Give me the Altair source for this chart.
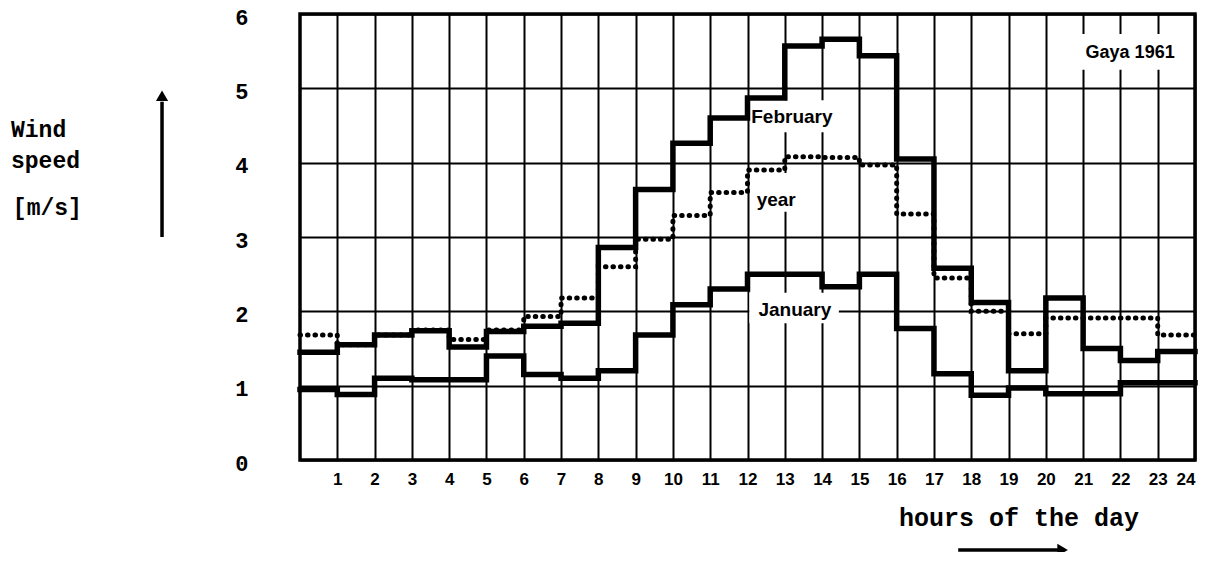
import altair as alt
import pandas as pd

# ---- data (one value per hour interval, 0-1 ... 23-24)
hour_starts = list(range(24))
february = [1.45, 1.55, 1.68, 1.74, 1.52, 1.73, 1.80, 1.84, 2.86, 3.64, 4.26, 4.60,
            4.87, 5.57, 5.66, 5.44, 4.05, 2.58, 2.12, 1.20, 2.18, 1.50, 1.34, 1.46]
january = [0.95, 0.88, 1.10, 1.08, 1.08, 1.40, 1.15, 1.10, 1.20, 1.68, 2.09, 2.30,
           2.50, 2.50, 2.33, 2.50, 1.77, 1.16, 0.87, 0.97, 0.89, 0.89, 1.04, 1.04]
year = [1.68, 1.55, 1.68, 1.75, 1.62, 1.75, 1.93, 2.18, 2.60, 2.97, 3.29, 3.60,
        3.90, 4.08, 4.07, 3.97, 3.31, 2.45, 2.00, 1.70, 1.91, 1.91, 1.91, 1.68]

x_tick_values = list(range(1, 25))
y_tick_values = list(range(0, 7))

# in-plot labels (data units)
label_text = ["February", "year", "January"]
label_x = [13.19, 12.77, 13.27]
label_y = [4.62, 3.50, 2.02]
label_box_x = [12.2, 12.15, 12.05]
label_box_x2 = [14.6, 13.45, 14.45]
label_box_y = [4.41, 3.34, 1.84]
label_box_y2 = [4.84, 3.86, 2.25]

source_text = ["Gaya 1961"]
source_x = [22.26]
source_y = [5.48]
source_box = [20.8, 23.7, 5.25, 5.73]

# outside annotations (data units, extrapolated from the scales)
ylab_lines = ["Wind", "speed", "[m/s]"]
ylab_x = [-7.75, -7.75, -7.70]
ylab_y = [4.44, 4.02, 3.39]
yarrow_x = -3.70
yarrow_from, yarrow_to = 3.0, 4.82
xlab_text = ["hours of the day"]
xlab_x = [19.28]
xlab_y = [-0.78]
xarrow_from, xarrow_to, xarrow_y = 17.65, 20.45, -1.21

# ---- build tables
rows = []
for name, vals in [("February", february), ("January", january), ("year", year)]:
    ext = vals + [vals[-1]]
    for h, v in zip(hour_starts + [24], ext):
        rows.append({"hour": h, "speed": v, "series": name})
df = pd.DataFrame(rows)

xs = alt.Scale(domain=[0, 24], nice=False, zero=False)
ys = alt.Scale(domain=[0, 6], nice=False, zero=False)

x_axis = alt.Axis(values=x_tick_values, title=None, format="d")
y_axis = alt.Axis(values=y_tick_values, title=None, format="d")

base = alt.Chart(df)

grid_holder = base.mark_line(opacity=0).encode(
    x=alt.X("hour:Q", scale=xs, axis=x_axis),
    y=alt.Y("speed:Q", scale=ys, axis=y_axis),
)

boxes = pd.DataFrame({
    "x": label_box_x + [source_box[0]],
    "x2": label_box_x2 + [source_box[1]],
    "y": label_box_y + [source_box[2]],
    "y2": label_box_y2 + [source_box[3]],
})
box_layer = alt.Chart(boxes).mark_rect(color="white").encode(
    x=alt.X("x:Q", scale=xs, axis=x_axis), x2="x2:Q",
    y=alt.Y("y:Q", scale=ys, axis=y_axis), y2="y2:Q")

solid = base.transform_filter(alt.datum.series != "year").mark_line(
    interpolate="step-after", color="black", strokeWidth=5.5, strokeJoin="miter",
    strokeCap="square").encode(
    x=alt.X("hour:Q", scale=xs, axis=x_axis), y=alt.Y("speed:Q", scale=ys, axis=y_axis),
    detail="series:N")

dotted = base.transform_filter(alt.datum.series == "year").mark_line(
    interpolate="step-after", color="black", strokeWidth=5, strokeCap="round",
    strokeDash=[0.5, 7]).encode(
    x=alt.X("hour:Q", scale=xs, axis=x_axis), y=alt.Y("speed:Q", scale=ys, axis=y_axis))

labels = alt.Chart(pd.DataFrame({"t": label_text, "x": label_x, "y": label_y})).mark_text(
    font="Liberation Sans", fontWeight="bold", fontSize=19, color="black",
    align="center", baseline="middle").encode(
    x=alt.X("x:Q", scale=xs, axis=x_axis), y=alt.Y("y:Q", scale=ys, axis=y_axis), text="t:N")

source = alt.Chart(pd.DataFrame({"t": source_text, "x": source_x, "y": source_y})).mark_text(
    font="Liberation Sans", fontWeight="bold", fontSize=18, color="black",
    align="center", baseline="middle").encode(
    x=alt.X("x:Q", scale=xs, axis=x_axis), y=alt.Y("y:Q", scale=ys, axis=y_axis), text="t:N")

ylab = alt.Chart(pd.DataFrame({"t": ylab_lines, "x": ylab_x, "y": ylab_y})).mark_text(
    font="Liberation Mono", fontWeight="bold", fontSize=23, color="black",
    align="left", baseline="middle").encode(
    x=alt.X("x:Q", scale=xs, axis=x_axis), y=alt.Y("y:Q", scale=ys, axis=y_axis), text="t:N")

xlab = alt.Chart(pd.DataFrame({"t": xlab_text, "x": xlab_x, "y": xlab_y})).mark_text(
    font="Liberation Mono", fontWeight="bold", fontSize=25, color="black",
    align="center", baseline="middle").encode(
    x=alt.X("x:Q", scale=xs, axis=x_axis), y=alt.Y("y:Q", scale=ys, axis=y_axis), text="t:N")

arrows = pd.DataFrame({
    "x": [yarrow_x, xarrow_from], "x2": [yarrow_x, xarrow_to],
    "y": [yarrow_from, xarrow_y], "y2": [yarrow_to, xarrow_y],
})
arrow_shafts = alt.Chart(arrows).mark_rule(color="black", strokeWidth=3.5).encode(
    x=alt.X("x:Q", scale=xs, axis=x_axis), x2="x2:Q",
    y=alt.Y("y:Q", scale=ys, axis=y_axis), y2="y2:Q")

heads = pd.DataFrame({"x": [yarrow_x, xarrow_to], "y": [yarrow_to + 0.08, xarrow_y],
                      "shape": ["triangle-up", "triangle-right"]})
arrow_heads = alt.Chart(heads).mark_point(filled=True, color="black", opacity=1, size=150).encode(
    x=alt.X("x:Q", scale=xs, axis=x_axis), y=alt.Y("y:Q", scale=ys, axis=y_axis),
    shape=alt.Shape("shape:N", scale=None))

chart = alt.layer(
    grid_holder, box_layer, dotted, solid, labels, source, ylab, xlab,
    arrow_shafts, arrow_heads
).properties(
    width=895, height=446,
    padding={"left": 292, "top": 6, "right": 5, "bottom": 92},
    autosize=alt.AutoSizeParams(type="none"),
    background="white",
).configure_view(
    stroke="black", strokeWidth=3.5
).configure_axis(
    grid=True, gridColor="black", gridWidth=2, gridOpacity=1,
    ticks=False, domain=False, labelOverlap=False, labelColor="black",
    labelFontWeight="bold",
).configure_axisX(
    labelFont="Liberation Sans", labelFontSize=17, labelPadding=11,
    labelOverlap=False,
).configure_axisY(
    labelFont="Liberation Mono", labelFontSize=22, labelPadding=52, labelOffset=3,
    labelOverlap=False,
)

chart.save("out.html", embed_options={"renderer": "svg", "actions": False})
